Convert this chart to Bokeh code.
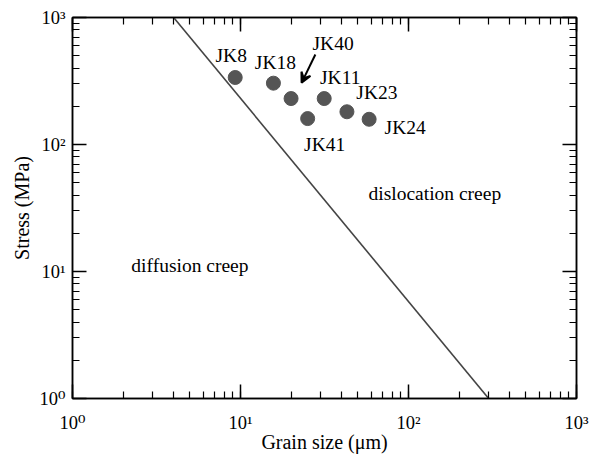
from bokeh.plotting import figure
from bokeh.models import (ColumnDataSource, LogAxis, LogTicker, Range1d, Arrow,
                          VeeHead, Label)
from bokeh.core.properties import value
from bokeh.embed import file_html
from bokeh.resources import INLINE

# Samples: grain size (µm) and stress (MPa)
samples = ["JK8", "JK18", "JK40", "JK11", "JK41", "JK23", "JK24"]
grain_size = [9.3, 15.7, 20.0, 31.5, 25.1, 43.0, 58.3]
stress = [337, 304, 230, 230, 160, 181, 158]

# Boundary between the diffusion and dislocation creep fields
boundary_grain = [4.0, 300.0]
boundary_stress = [1000.0, 1.0]

# Decade ticks
tick_values = [1, 10, 100, 1000]
tick_labels = ["10\u2070", "10\u00b9", "10\u00b2", "10\u00b3"]

FONT = "Liberation Serif"
TICK_FONT = "Liberation Serif, DejaVu Serif"

p = figure(width=602, height=460, x_axis_type="log", y_axis_type="log",
           x_range=Range1d(1, 1000), y_range=Range1d(1, 1000),
           output_backend="svg", toolbar_location=None,
           min_border_left=72, min_border_right=26,
           min_border_top=17, min_border_bottom=62)
p.background_fill_color = "white"
p.border_fill_color = "white"
p.outline_line_color = "black"
p.outline_line_width = 1.5
p.xgrid.visible = False
p.ygrid.visible = False

p.add_layout(LogAxis(), "above")
p.add_layout(LogAxis(), "right")

for ax in p.axis:
    ax.ticker = LogTicker(desired_num_ticks=4, num_minor_ticks=10)
    ax.axis_line_color = "black"
    ax.axis_line_width = 1.5
    ax.major_tick_line_color = "black"
    ax.major_tick_line_width = 1.5
    ax.minor_tick_line_color = "black"
    ax.minor_tick_line_width = 1.2
    ax.major_tick_in = 14
    ax.major_tick_out = 0
    ax.minor_tick_in = 7
    ax.minor_tick_out = 0
    ax.major_label_text_font = TICK_FONT
    ax.major_label_text_font_size = "18.5px"
    ax.major_label_text_color = "black"
    ax.axis_label_text_font = FONT
    ax.axis_label_text_font_size = "20px"
    ax.axis_label_text_font_style = "normal"
    ax.axis_label_text_color = "black"

# Mirror axes carry ticks only
for ax in p.above + p.right:
    ax.major_label_overrides = {v: "" for v in tick_values}
    ax.major_label_standoff = 0

labels = dict(zip(tick_values, tick_labels))
xax = p.below[0]
yax = p.left[0]
xax.major_label_overrides = labels
yax.major_label_overrides = labels
xax.axis_label = "Grain size (\u03bcm)"
yax.axis_label = "Stress (MPa)"
xax.major_label_standoff = 14
yax.major_label_standoff = 7
xax.axis_label_standoff = -5
yax.axis_label_standoff = 4

# Creep field boundary
p.line(boundary_grain, boundary_stress, line_color="#444444", line_width=1.6)

# Sample points and their names
src = ColumnDataSource(dict(
    x=grain_size, y=stress, name=samples,
    dx=[-4, 2, 42, 16, 17, 30, 36],
    dy=[-22, -21, -55, -21, 26, -19, 8],
))
p.scatter("x", "y", source=src, size=14, fill_color="#555555",
          line_color="#555555")
p.text("x", "y", text="name", source=src, x_offset="dx", y_offset="dy",
       text_font=value(FONT), text_font_size="19.5px", text_color="black",
       text_align="center", text_baseline="middle")

# Pointer to JK40
p.add_layout(Arrow(x_start=27.9, y_start=511, x_end=23.1, y_end=306,
                   line_color="black", line_width=2,
                   end=VeeHead(size=10, line_color="black", line_width=2,
                               fill_color="black")))

p.add_layout(Label(x=143.5, y=40.8, text="dislocation creep",
                   text_font=FONT, text_font_size="19.5px", text_color="black",
                   text_align="center", text_baseline="middle"))
p.add_layout(Label(x=5.0, y=11.1, text="diffusion creep",
                   text_font=FONT, text_font_size="19.5px", text_color="black",
                   text_align="center", text_baseline="middle"))

open("out.html", "w").write(file_html(p, INLINE))
